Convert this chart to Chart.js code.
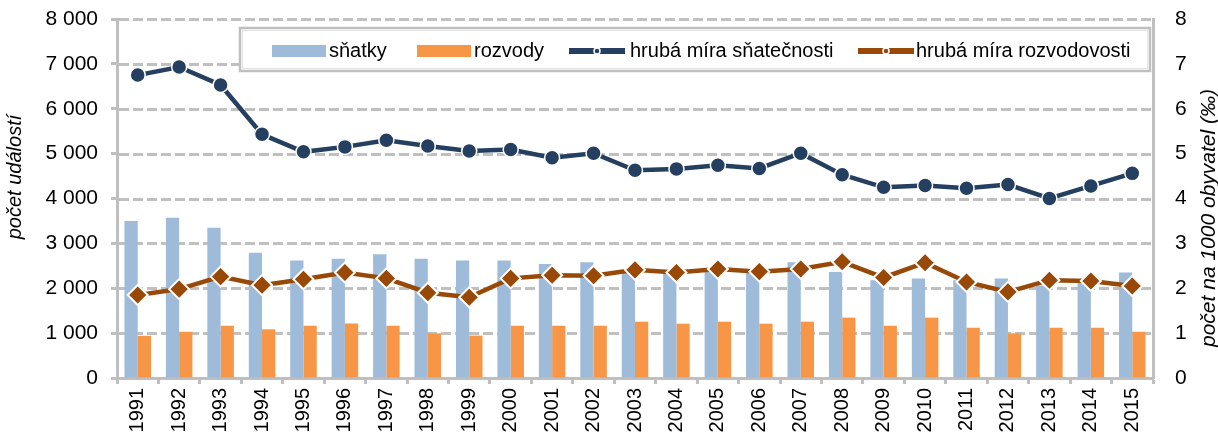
<!DOCTYPE html>
<html>
<head>
<meta charset="utf-8">
<script src="https://cdn.jsdelivr.net/npm/chart.js@4"></script>
<style>
html,body{margin:0;padding:0;background:#fff;}
#wrap{width:1218px;height:436px;position:relative;}
</style>
</head>
<body>
<div id="wrap"><canvas id="c" width="1218" height="436"></canvas></div>
<script>
const years = ['1991','1992','1993','1994','1995','1996','1997','1998','1999','2000','2001','2002','2003','2004','2005','2006','2007','2008','2009','2010','2011','2012','2013','2014','2015'];
const snatky = [3500,3570,3350,2790,2620,2660,2760,2660,2620,2620,2540,2580,2400,2370,2400,2390,2580,2360,2180,2220,2180,2220,2060,2130,2350];
const rozvody = [940,1030,1165,1085,1165,1215,1165,995,945,1165,1165,1165,1255,1210,1255,1210,1255,1345,1165,1345,1120,995,1120,1120,1030];
const miraSnatecnosti = [6.75,6.93,6.53,5.43,5.04,5.15,5.30,5.17,5.06,5.09,4.91,5.01,4.63,4.66,4.74,4.67,5.01,4.53,4.25,4.29,4.23,4.31,4.00,4.28,4.56];
const miraRozvodovosti = [1.85,1.98,2.26,2.07,2.20,2.35,2.22,1.90,1.80,2.22,2.29,2.28,2.41,2.35,2.43,2.37,2.43,2.59,2.24,2.57,2.14,1.92,2.18,2.16,2.05];
const leftTicks = [0,1000,2000,3000,4000,5000,6000,7000,8000];
const rightTicks = [0,1,2,3,4,5,6,7,8];
const seriesNames = ['sňatky','rozvody','hrubá míra sňatečnosti','hrubá míra rozvodovosti'];
const leftTitle = 'počet událostí';
const rightTitle = 'počet na 1000 obyvatel (‰)';

const FONT = '"Liberation Sans", Arial, sans-serif';
const C_BLUE = '#9ebbd9', C_ORANGE = '#f79646', C_NAVY = '#243f60', C_BROWN = '#984807', C_GRID = '#c0c0c0';

function fmt(v){ return String(v).replace(/\B(?=(\d{3})+(?!\d))/g, '\u00a0'); }

const gridAndLegend = {
  id: 'gridAndLegend',
  beforeDatasetsDraw(chart) {
    const {ctx, chartArea: a, scales} = chart;
    ctx.save();
    ctx.setLineDash([10,4]);
    ctx.lineWidth = 3;
    ctx.strokeStyle = C_GRID;
    leftTicks.forEach(v => {
      if (v === 0) return;
      const y = Math.round(scales.y.getPixelForValue(v)) + 0.5;
      ctx.beginPath(); ctx.moveTo(a.left + 2, y); ctx.lineTo(a.right - 2, y); ctx.stroke();
    });
    ctx.restore();
    // legend box
    ctx.save();
    const bx = 240, by = 28, bw = 910, bh = 43;
    ctx.fillStyle = '#fff';
    ctx.fillRect(bx, by, bw, bh);
    ctx.strokeStyle = '#bfbfbf';
    ctx.lineWidth = 2.5;
    ctx.strokeRect(bx, by, bw, bh);
    ctx.strokeStyle = '#e3e3e3';
    ctx.lineWidth = 1;
    ctx.strokeRect(bx + 2.5, by + 2.5, bw - 5, bh - 5);
    const cy = 51;
    ctx.font = '20px ' + FONT;
    ctx.fillStyle = '#000';
    ctx.textBaseline = 'middle';
    ctx.textAlign = 'left';
    ctx.fillStyle = C_BLUE; ctx.fillRect(272, cy - 6, 54, 12);
    ctx.fillStyle = '#000'; ctx.fillText(seriesNames[0], 329, cy);
    ctx.fillStyle = C_ORANGE; ctx.fillRect(417, cy - 6, 54, 12);
    ctx.fillStyle = '#000'; ctx.fillText(seriesNames[1], 474, cy);
    const sym = (x0, color, text, tx) => {
      ctx.strokeStyle = color; ctx.lineWidth = 6; ctx.lineCap = 'butt';
      ctx.beginPath(); ctx.moveTo(x0, cy); ctx.lineTo(x0 + 56, cy); ctx.stroke();
      ctx.fillStyle = color; ctx.strokeStyle = '#fff'; ctx.lineWidth = 1.5;
      ctx.beginPath(); ctx.arc(x0 + 28, cy, 3, 0, Math.PI * 2); ctx.fill(); ctx.stroke();
      ctx.fillStyle = '#000'; ctx.fillText(text, tx, cy);
    };
    sym(569, C_NAVY, seriesNames[2], 630);
    sym(858, C_BROWN, seriesNames[3], 916);
    ctx.restore();
  },
  afterDraw(chart) {
    const {ctx} = chart;
    ctx.save();
    ctx.font = 'italic 20px ' + FONT;
    ctx.fillStyle = '#000';
    ctx.textAlign = 'center';
    ctx.textBaseline = 'middle';
    ctx.translate(15, 177); ctx.rotate(-Math.PI / 2); ctx.fillText(leftTitle, 0, 0);
    ctx.restore();
    ctx.save();
    ctx.font = 'italic 21px ' + FONT;
    ctx.fillStyle = '#000';
    ctx.textAlign = 'center';
    ctx.textBaseline = 'middle';
    ctx.translate(1209, 218); ctx.rotate(-Math.PI / 2); ctx.fillText(rightTitle, 0, 0);
    ctx.restore();
  }
};

const noPad = s => { s.paddingTop = 0; s.paddingBottom = 0; };

new Chart(document.getElementById('c'), {
  data: {
    labels: years,
    datasets: [
      { type: 'bar', label: seriesNames[0], data: snatky, backgroundColor: C_BLUE, yAxisID: 'y', order: 2, borderWidth: 0 },
      { type: 'bar', label: seriesNames[1], data: rozvody, backgroundColor: C_ORANGE, yAxisID: 'y', order: 2, borderWidth: 0 },
      { type: 'line', label: seriesNames[2], data: miraSnatecnosti, yAxisID: 'y1', order: 0,
        borderColor: C_NAVY, borderWidth: 4.5, pointStyle: 'circle', pointRadius: 7.5, pointBackgroundColor: C_NAVY,
        pointBorderColor: '#fff', pointBorderWidth: 1.5, tension: 0 },
      { type: 'line', label: seriesNames[3], data: miraRozvodovosti, yAxisID: 'y1', order: 1,
        borderColor: C_BROWN, borderWidth: 4.5, pointStyle: 'rectRot', pointRadius: 10, pointBackgroundColor: C_BROWN,
        pointBorderColor: '#fff', pointBorderWidth: 2, tension: 0 }
    ]
  },
  options: {
    responsive: false,
    animation: false,
    devicePixelRatio: 1,
    layout: { padding: { top: 19, left: 0, right: 0, bottom: 0 } },
    plugins: { legend: { display: false }, tooltip: { enabled: false } },
    datasets: { bar: { categoryPercentage: 0.64, barPercentage: 1.0 } },
    scales: {
      x: {
        offset: true,
        grid: { offset: true, drawOnChartArea: false, drawTicks: true, tickLength: 6, tickColor: '#bfbfbf', tickWidth: 3 },
        border: { display: true, color: '#bfbfbf', width: 3 },
        ticks: { minRotation: 90, maxRotation: 90, autoSkip: false, padding: 4, color: '#000', font: { family: FONT, size: 20 } },
        afterFit: s => { s.height = 58; s.paddingLeft = 0; s.paddingRight = 0; }
      },
      y: {
        position: 'left', min: 0, max: 8000,
        afterBuildTicks: s => { s.ticks = leftTicks.map(v => ({ value: v })); },
        grid: { drawOnChartArea: false, drawTicks: true, tickLength: 6, tickColor: '#bfbfbf', tickWidth: 3 },
        border: { display: true, color: '#bfbfbf', width: 3 },
        ticks: { padding: 13, color: '#000', font: { family: FONT, size: 21 }, callback: v => fmt(v) },
        afterFit: s => { s.width = 117; noPad(s); }
      },
      y1: {
        position: 'right', min: 0, max: 8,
        afterBuildTicks: s => { s.ticks = rightTicks.map(v => ({ value: v })); },
        grid: { drawOnChartArea: false, drawTicks: false },
        border: { display: true, color: '#bfbfbf', width: 3 },
        ticks: { padding: 22, color: '#000', font: { family: FONT, size: 21 }, callback: v => String(v) },
        afterFit: s => { s.width = 65; noPad(s); }
      }
    }
  },
  plugins: [gridAndLegend]
});
</script>
</body>
</html>
